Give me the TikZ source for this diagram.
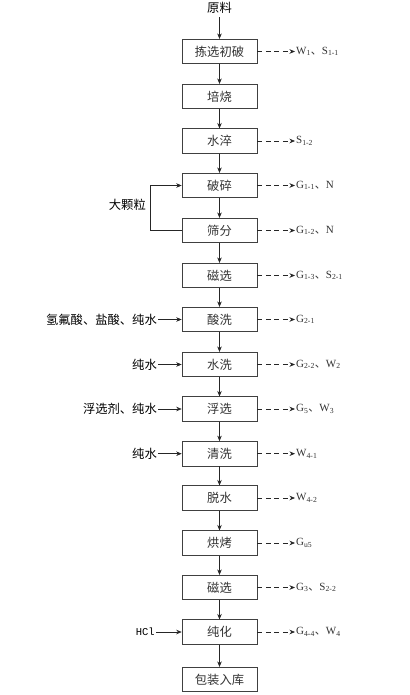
\documentclass[tikz,border=0pt]{standalone}
\usepackage{fontspec}
\setmainfont{Liberation Serif}
\setmonofont{Liberation Mono}
\newfontfamily\cjk{Noto Sans CJK SC}
\usetikzlibrary{arrows.meta}
\newcommand\sbs[1]{\textsubscript{#1}}
\newcommand\dun{{\cjk 、}}
\begin{document}
\begin{tikzpicture}[x=1pt,y=-1pt,line cap=butt,line join=miter,>={Stealth[length=5.5pt,width=4.5pt]},font=\fontsize{12.3}{14}\selectfont\cjk,
	stepbox/.style={draw=black!75,line width=0.6pt,minimum width=75pt,minimum height=24.5pt,inner sep=0pt,text=black!80},
	outlbl/.style={anchor=west,inner sep=1pt,font=\fontsize{11}{13}\selectfont\rmfamily,text=black!80},
	inlbl/.style={anchor=east,inner sep=1pt},
	flow/.style={->,line width=0.6pt,draw=black!85},
	waste/.style={->,line width=0.6pt,draw=black!85,dash pattern=on 5pt off 3.5pt}]
			\useasboundingbox (0,0) rectangle (409,695);
			% main chain
			\node (raw) at (219.5,8) {原料};
			\node[stepbox] (b1) at (219.5,51.5) {拣选初破};
			\node[stepbox] (b2) at (219.5,96.5) {培烧};
			\node[stepbox] (b3) at (219.5,141) {水淬};
			\node[stepbox] (b4) at (219.5,185.5) {破碎};
			\node[stepbox] (b5) at (219.5,230.5) {筛分};
			\node[stepbox] (b6) at (219.5,275.5) {磁选};
			\node[stepbox] (b7) at (219.5,319.5) {酸洗};
			\node[stepbox] (b8) at (219.5,364.5) {水洗};
			\node[stepbox] (b9) at (219.5,409) {浮选};
			\node[stepbox] (b10) at (219.5,453.7) {清洗};
			\node[stepbox] (b11) at (219.5,498) {脱水};
			\node[stepbox] (b12) at (219.5,543) {烘烤};
			\node[stepbox] (b13) at (219.5,587.5) {磁选};
			\node[stepbox] (b14) at (219.5,632) {纯化};
			\node[stepbox] (b15) at (219.5,679.5) {包装入库};
			\draw[flow] (raw.south) -- (b1.north);
			\draw[flow] (b1) -- (b2);  \draw[flow] (b2) -- (b3);  \draw[flow] (b3) -- (b4);
			\draw[flow] (b4) -- (b5);  \draw[flow] (b5) -- (b6);  \draw[flow] (b6) -- (b7);
			\draw[flow] (b7) -- (b8);  \draw[flow] (b8) -- (b9);  \draw[flow] (b9) -- (b10);
			\draw[flow] (b10) -- (b11);  \draw[flow] (b11) -- (b12);  \draw[flow] (b12) -- (b13);
			\draw[flow] (b13) -- (b14);  \draw[flow] (b14) -- (b15);
			% oversize return
			\draw[flow] (b5.west) -- ++(-31,0) |- (b4.west);
			\node[inlbl] (big) at (147,205) {大颗粒};
			% emissions
			\node[outlbl] (o1) at (295,51.5) {W\sbs{1}\dun S\sbs{1-1}};
			\node[outlbl] (o3) at (295,141) {S\sbs{1-2}};
			\node[outlbl] (o4) at (295,185.5) {G\sbs{1-1}\dun N};
			\node[outlbl] (o5) at (295,230.5) {G\sbs{1-2}\dun N};
			\node[outlbl] (o6) at (295,275.5) {G\sbs{1-3}\dun S\sbs{2-1}};
			\node[outlbl] (o7) at (295,319.5) {G\sbs{2-1}};
			\node[outlbl] (o8) at (295,364.5) {G\sbs{2-2}\dun W\sbs{2}};
			\node[outlbl] (o9) at (295,409) {G\sbs{5}\dun W\sbs{3}};
			\node[outlbl] (o10) at (295,453.7) {W\sbs{4-1}};
			\node[outlbl] (o11) at (295,498) {W\sbs{4-2}};
			\node[outlbl] (o12) at (295,543) {G\sbs{u5}};
			\node[outlbl] (o13) at (295,587.5) {G\sbs{3}\dun S\sbs{2-2}};
			\node[outlbl] (o14) at (295,632) {G\sbs{4-4}\dun W\sbs{4}};
			\foreach \i in {1,3,4,5,6,7,8,9,10,11,12,13,14}
				\draw[waste] (b\i.east) -- (o\i.west);
			% feeds
			\node[inlbl] (i7) at (158,319.5) {氢氟酸、盐酸、纯水};
			\node[inlbl] (i8) at (158,364.5) {纯水};
			\node[inlbl] (i9) at (158,409) {浮选剂、纯水};
			\node[inlbl] (i10) at (158,453.7) {纯水};
			\node[inlbl,font=\fontsize{10.5}{12}\selectfont\ttfamily] (i14) at (156,632) {HCl};
			\foreach \i in {7,8,9,10,14}
				\draw[flow] (i\i.east) -- (b\i.west);
		\end{tikzpicture}
\end{document}
